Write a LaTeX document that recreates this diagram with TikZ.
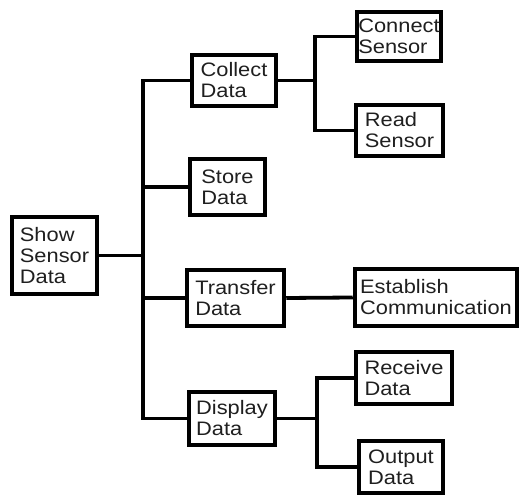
\documentclass[tikz,border=0pt]{standalone}
\usepackage{fontspec}
\setmainfont[FakeStretch=1.12]{Liberation Sans}
\begin{document}
\begin{tikzpicture}[x=1pt,y=-1pt,
  box/.style={draw=black, line width=4.5pt, fill=white, align=left, inner sep=0pt,
    font=\fontsize{19.5}{21}\selectfont, text=black!88},
  link/.style={line width=3.8pt, line join=miter}]
\useasboundingbox (0,0) rectangle (520,497);
\node[box, minimum width=85pt, minimum height=77pt] (show) at (54.5,255.5) {Show\\Sensor\\Data};
\node[box, minimum width=84pt, minimum height=51pt] (collect) at (234,80.5) {Collect\\Data};
\node[box, minimum width=75pt, minimum height=56pt] (store) at (227.5,187) {Store\\Data};
\node[box, minimum width=97pt, minimum height=56pt] (transfer) at (235.5,298) {Transfer\\Data};
\node[box, minimum width=86pt, minimum height=53pt] (display) at (232,418.5) {Display\\Data};
\node[box, minimum width=84pt, minimum height=49pt] (connect) at (399,36.5) {Connect\\Sensor};
\node[box, minimum width=87pt, minimum height=51pt] (read) at (399.5,130.5) {Read\\Sensor};
\node[box, minimum width=162pt, minimum height=57pt] (establish) at (436,297.5) {Establish\\Communication};
\node[box, minimum width=96pt, minimum height=52pt] (receive) at (404,378) {Receive\\Data};
\node[box, minimum width=84pt, minimum height=52pt] (output) at (401,467) {Output\\Data};
\coordinate (t) at (143,255.5);
\coordinate (tc) at (315,80.5);
\coordinate (td) at (317,418.5);
\draw[link] (show.east) -- (t);
\draw[link] (collect.west) -| (t) |- (display.west);
\draw[link] (t |- store.west) -- (store.west);
\draw[link] (t |- transfer.west) -- (transfer.west);
\draw[link] (transfer.east) -- (establish.west);
\draw[link] (collect.east) -- (tc);
\draw[link] (connect.west) -| (tc) |- (read.west);
\draw[link] (display.east) -- (td);
\draw[link] (receive.west) -| (td) |- (output.west);
\end{tikzpicture}
\end{document}
